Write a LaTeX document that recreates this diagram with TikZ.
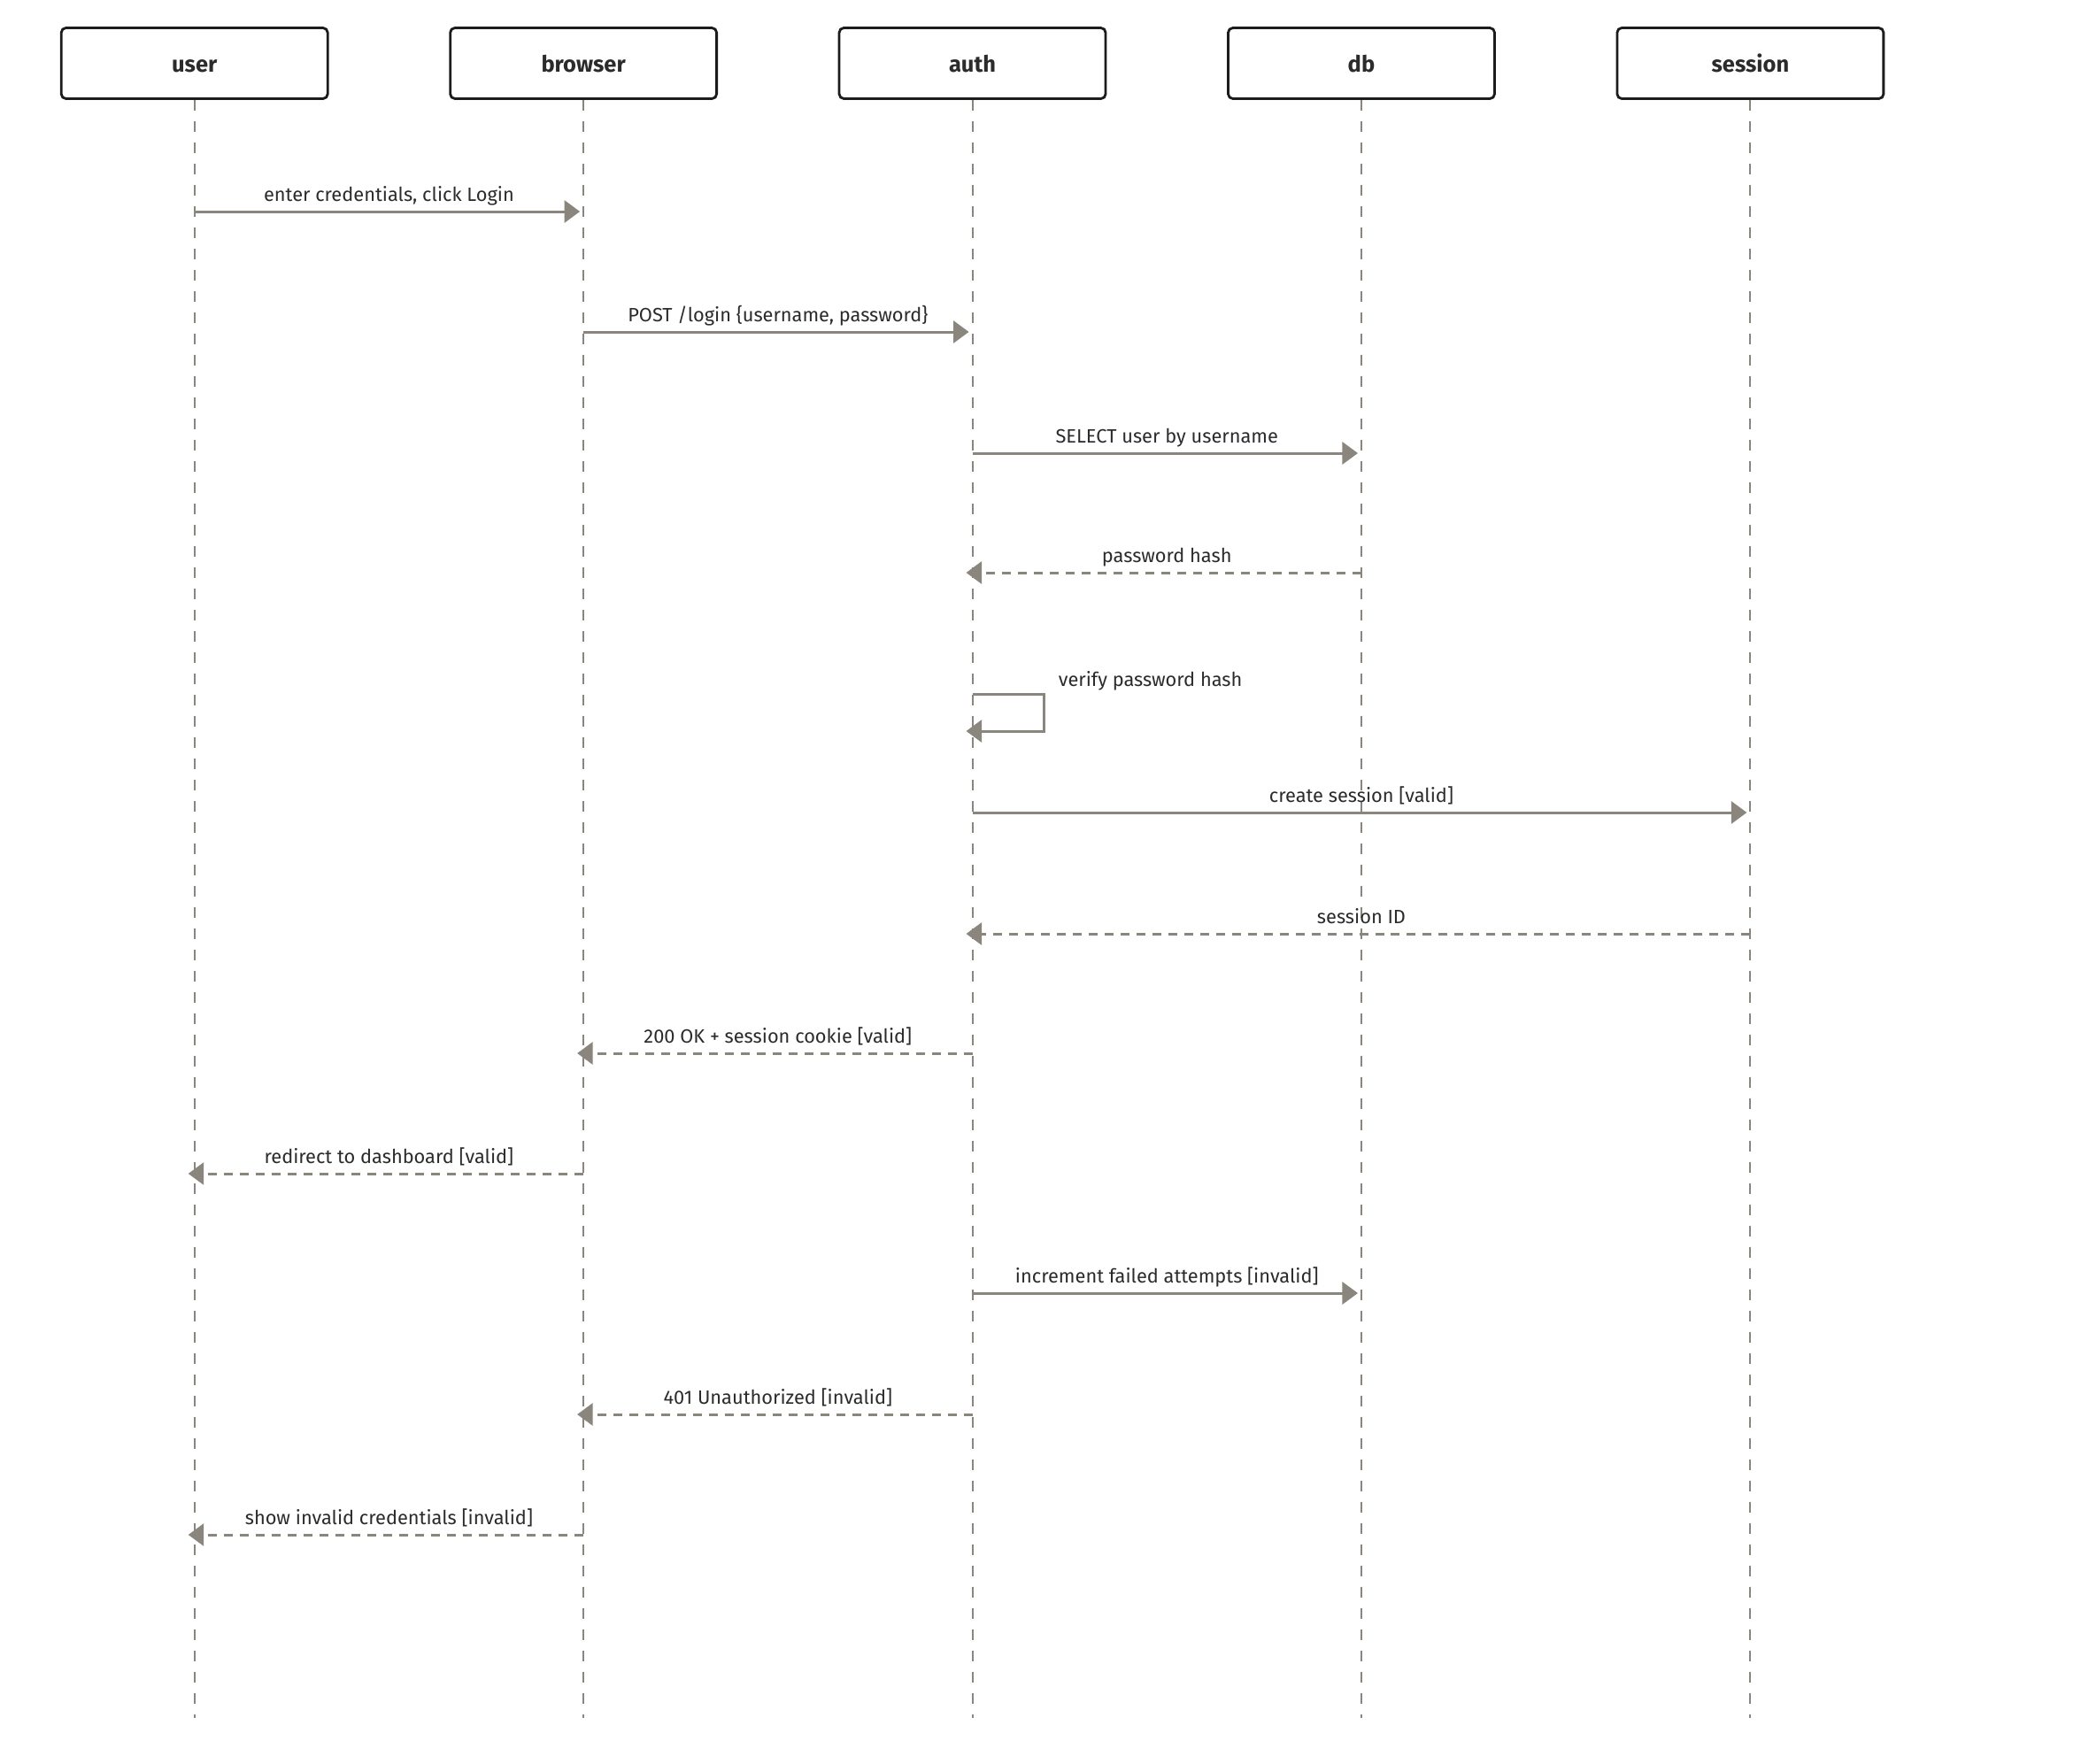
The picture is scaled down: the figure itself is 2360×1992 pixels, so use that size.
\documentclass[tikz,border=0pt]{standalone}
\usepackage{fontspec}
\setmainfont{Fira Sans}
\usepackage{xcolor}
\usetikzlibrary{arrows.meta, positioning, calc}
\definecolor{msggray}{HTML}{8A857D}
\definecolor{boxdark}{HTML}{1C1C1C}
\definecolor{textdark}{HTML}{2B2B2B}

\begin{document}
\begin{tikzpicture}[
                x=0.02cm, y=-0.02cm,
                node distance=2.714cm,
                actor/.style={rectangle, draw=boxdark, line width=1.6pt, rounded corners=3pt, minimum width=6.02cm, minimum height=1.6cm, text height=2.4ex, text depth=0.2ex, text=textdark, font=\bfseries\fontsize{14.5}{17}\selectfont},
                lifeline/.style={draw=msggray, line width=1.1pt, dash pattern=on 0.24cm off 0.24cm},
                msg/.style={draw=msggray, line width=1.7pt, shorten >=0.08cm, -{Triangle[length=0.35cm, width=0.5cm]}},
                reply/.style={msg, shorten >=-0.14cm, dash pattern=on 0.2cm off 0.16cm},
                lbl/.style={text=textdark, font=\fontsize{12.4}{15}\selectfont, inner sep=0pt, anchor=base, yshift=0.24cm}
            ]
                \useasboundingbox (0,0) rectangle (2360,1992);

                % Participants
                \node[actor] (user) at (219.7,71.5) {user};
                \node[actor, right=of user] (browser) {browser};
                \node[actor, right=of browser] (auth) {auth};
                \node[actor, right=of auth] (db) {db};
                \node[actor, right=of db] (session) {session};

                % Lifelines
                \coordinate (end) at (0,1941);
                \foreach \p in {user, browser, auth, db, session}
                    \draw[lifeline] (\p.south) -- (\p.south |- end);

                % Message rows
                \coordinate (m1) at (0,239);
                \coordinate (m2) at (0,375);
                \coordinate (m3) at (0,512);
                \coordinate (m4) at (0,647);
                \coordinate (m5) at (0,784);
                \coordinate (m5b) at (0,826);
                \coordinate (m6) at (0,918);
                \coordinate (m7) at (0,1055);
                \coordinate (m8) at (0,1190);
                \coordinate (m9) at (0,1326);
                \coordinate (m10) at (0,1461);
                \coordinate (m11) at (0,1598);
                \coordinate (m12) at (0,1734);

                % Messages
                \draw[msg] (user |- m1) -- (browser |- m1)
                    node[lbl, midway] {enter credentials, click Login};
                \draw[msg] (browser |- m2) -- (auth |- m2)
                    node[lbl, midway] {POST /login \{username, password\}};
                \draw[msg] (auth |- m3) -- (db |- m3)
                    node[lbl, midway] {SELECT user by username};
                \draw[reply] (db |- m4) -- (auth |- m4)
                    node[lbl, midway] {password hash};
                \draw[msg, shorten >=-0.14cm] (auth |- m5) -- ++(81,0) -- ++(0,42) -- (auth |- m5b);
                \node[lbl, anchor=base west] (verify) at ($(auth |- m5)+(97,3)$) {verify password hash};
                \draw[msg] (auth |- m6) -- (session |- m6)
                    node[lbl, midway] {create session [valid]};
                \draw[reply] (session |- m7) -- (auth |- m7)
                    node[lbl, midway] {session ID};
                \draw[reply] (auth |- m8) -- (browser |- m8)
                    node[lbl, midway] {200 OK + session cookie [valid]};
                \draw[reply] (browser |- m9) -- (user |- m9)
                    node[lbl, midway] {redirect to dashboard [valid]};
                \draw[msg] (auth |- m10) -- (db |- m10)
                    node[lbl, midway] {increment failed attempts [invalid]};
                \draw[reply] (auth |- m11) -- (browser |- m11)
                    node[lbl, midway] {401 Unauthorized [invalid]};
                \draw[reply] (browser |- m12) -- (user |- m12)
                    node[lbl, midway] {show invalid credentials [invalid]};
            \end{tikzpicture}
\end{document}
